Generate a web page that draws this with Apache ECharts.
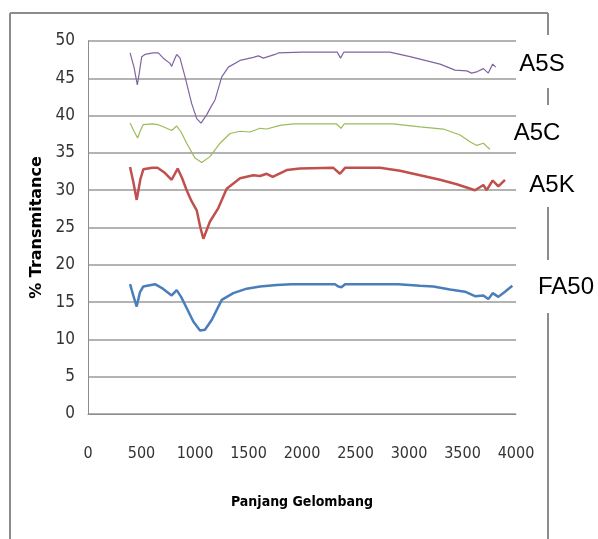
<!DOCTYPE html>
<html>
<head>
<meta charset="utf-8">
<script src="https://cdn.jsdelivr.net/npm/echarts@6/dist/echarts.min.js"></script>
<style>
  html, body { margin: 0; padding: 0; background: #fff; }
  #chart { width: 598px; height: 539px; }
</style>
</head>
<body>
<div id="chart"></div>
<script>
// wavelength / transmitance pairs
const a5s = [
  [393, 48.4], [430, 46.5], [461, 44.1], [480, 45.8], [502, 47.9], [533, 48.2], [608, 48.4], [657, 48.4],
  [704, 47.7], [766, 47.0], [782, 46.6], [810, 47.6], [829, 48.2], [860, 47.7], [907, 45.2], [969, 41.6],
  [1016, 39.6], [1056, 39.0], [1109, 40.1], [1150, 41.2], [1187, 42.1], [1250, 45.2], [1312, 46.5],
  [1421, 47.4], [1545, 47.8], [1592, 48.0], [1639, 47.7], [1748, 48.2], [1779, 48.4], [2000, 48.5],
  [2330, 48.5], [2360, 47.7], [2390, 48.5], [2820, 48.5], [3009, 47.9], [3150, 47.4], [3290, 46.9],
  [3430, 46.1], [3539, 46.0], [3586, 45.7], [3640, 45.9], [3695, 46.3], [3741, 45.7], [3782, 46.9], [3810, 46.5]
];
const a5c = [
  [393, 39.0], [430, 37.9], [464, 37.0], [490, 38.0], [517, 38.8], [600, 38.9], [650, 38.8], [720, 38.4],
  [782, 38.0], [829, 38.6], [870, 37.8], [922, 36.3], [1000, 34.3], [1063, 33.7], [1140, 34.5],
  [1234, 36.3], [1327, 37.6], [1421, 37.9], [1514, 37.8], [1608, 38.3], [1670, 38.2], [1794, 38.7],
  [1919, 38.9], [2320, 38.9], [2365, 38.3], [2395, 38.9], [2850, 38.9], [3103, 38.5], [3321, 38.2],
  [3477, 37.4], [3570, 36.5], [3633, 36.0], [3695, 36.3], [3732, 35.8], [3757, 35.5]
];
const a5k = [
  [393, 33.1], [425, 31.0], [455, 28.7], [490, 31.5], [517, 32.8], [600, 33.0], [650, 33.0], [720, 32.3],
  [782, 31.4], [838, 32.9], [880, 31.6], [922, 30.0], [969, 28.5], [1016, 27.3], [1050, 25.0],
  [1078, 23.5], [1140, 25.8], [1218, 27.6], [1296, 30.2], [1421, 31.6], [1545, 32.0], [1608, 31.9],
  [1670, 32.2], [1726, 31.8], [1857, 32.7], [1981, 32.9], [2293, 33.0], [2355, 32.2], [2402, 33.0],
  [2729, 33.0], [2916, 32.6], [3103, 32.0], [3290, 31.4], [3446, 30.8], [3617, 30.0], [3695, 30.7],
  [3726, 30.0], [3782, 31.3], [3835, 30.5], [3897, 31.4]
];
const fa50 = [
  [393, 17.4], [425, 15.8], [455, 14.4], [485, 16.3], [517, 17.1], [626, 17.4], [700, 16.8], [782, 15.9],
  [829, 16.6], [870, 15.7], [922, 14.2], [984, 12.4], [1047, 11.2], [1093, 11.3], [1156, 12.6],
  [1250, 15.3], [1358, 16.2], [1483, 16.8], [1608, 17.1], [1764, 17.3], [1900, 17.4], [2308, 17.4],
  [2340, 17.1], [2371, 17.0], [2402, 17.4], [2900, 17.4], [3103, 17.2], [3227, 17.1], [3383, 16.7],
  [3523, 16.4], [3617, 15.8], [3695, 15.9], [3741, 15.4], [3782, 16.2], [3835, 15.7], [3897, 16.4], [3966, 17.2]
];
const seriesNames = ['A5S', 'A5C', 'A5K', 'FA50'];
const seriesData = [a5s, a5c, a5k, fa50];
const seriesColors = ['#8064A2', '#9BBB59', '#C0504D', '#4A7EBB'];
const seriesWidths = [1.2, 1.2, 2.5, 2.5];

var chart = echarts.init(document.getElementById('chart'));
const narrow = "'Liberation Sans Narrow', 'DejaVu Sans Condensed', sans-serif";

// frame around the picture (gaps where the labels sit)
const frame = '#8c8c8c';
const seg = (x1, y1, x2, y2) => ({
  type: 'line', shape: { x1: x1, y1: y1, x2: x2, y2: y2 },
  style: { stroke: frame, lineWidth: 2 }, silent: true
});
const label = (text, cx, cy) => ({
  type: 'text', x: cx, y: cy,
  style: { text: text, fill: '#000', font: "24px 'Liberation Sans', Arial, sans-serif", align: 'center', verticalAlign: 'middle' }
});

var option = {
  animation: false,
  backgroundColor: '#fff',
  grid: { left: 88, right: 82, top: 41, bottom: 125 },
  xAxis: {
    type: 'value', min: 0, max: 4000, interval: 500,
    name: 'Panjang Gelombang', nameLocation: 'middle', nameGap: 81,
    nameTextStyle: { fontFamily: narrow, fontWeight: 'bold', fontSize: 14, color: '#000' },
    axisLine: { show: true, lineStyle: { color: '#8c8c8c', width: 1 } },
    axisTick: { show: false },
    splitLine: { show: false },
    axisLabel: { margin: 32, fontFamily: narrow, fontSize: 16, color: '#333', formatter: v => String(v) }
  },
  yAxis: {
    type: 'value', min: 0, max: 50, interval: 5,
    name: '% Transmitance', nameLocation: 'middle', nameGap: 41, nameRotate: 90,
    nameTextStyle: { fontFamily: "'DejaVu Sans', sans-serif", fontWeight: 'bold', fontSize: 16, color: '#000' },
    axisLine: { show: true, lineStyle: { color: '#8c8c8c', width: 1 } },
    axisTick: { show: false },
    splitLine: { show: true, lineStyle: { color: '#9a9a9a', width: 1.5 } },
    axisLabel: { margin: 13, fontFamily: narrow, fontSize: 17, color: '#333' }
  },
  series: seriesNames.map((n, i) => ({
    name: n, type: 'line', data: seriesData[i], showSymbol: false,
    lineStyle: { color: seriesColors[i], width: seriesWidths[i] }
  })),
  graphic: [
    seg(10, 539, 10, 13), seg(10, 13, 548, 13),
    seg(548, 13, 548, 35), seg(548, 88, 548, 105),
    seg(548, 207, 548, 260), seg(548, 313, 548, 539),
    label('A5S', 542, 64), label('A5C', 537, 133),
    label('A5K', 552, 185), label('FA50', 566, 287)
  ]
};
chart.setOption(option);
</script>
</body>
</html>
